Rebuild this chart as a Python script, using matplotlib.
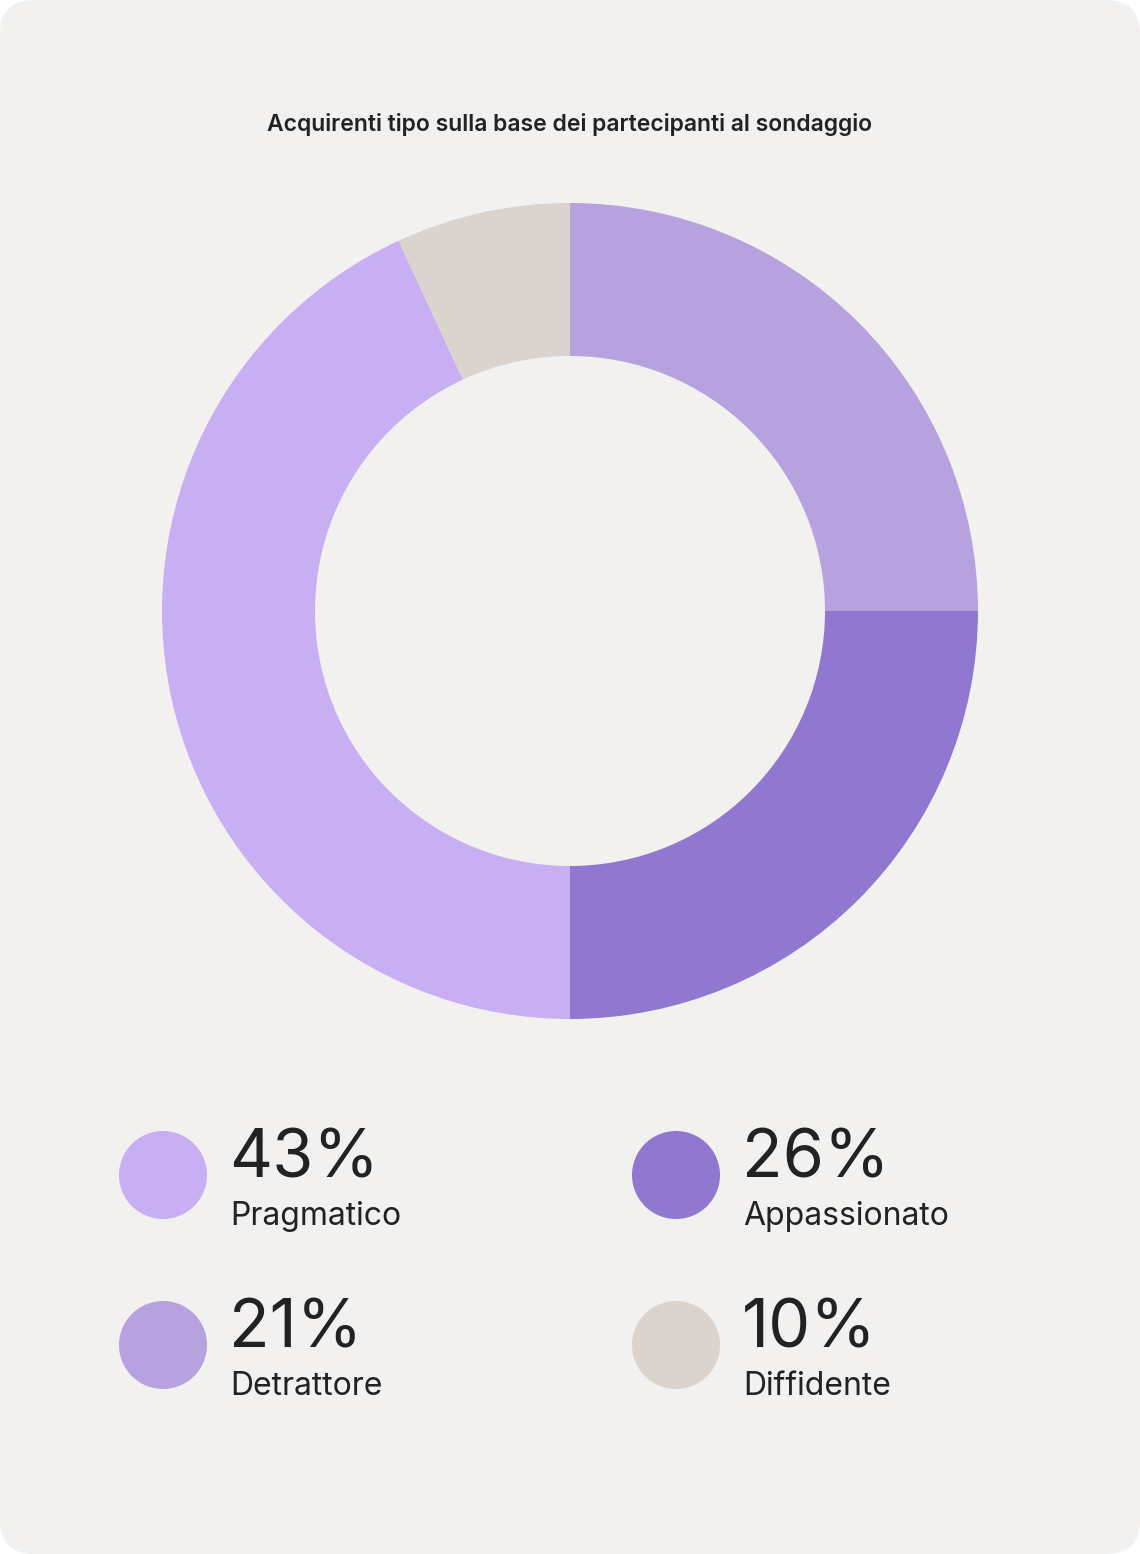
import matplotlib
matplotlib.use("Agg")
import matplotlib.pyplot as plt
from matplotlib.patches import FancyBboxPatch, Circle

plt.rcParams['font.family'] = ['Inter', 'DejaVu Sans']

title = "Acquirenti tipo sulla base dei partecipanti al sondaggio"
# Slice order clockwise from 12 o'clock, shares as drawn in the picture
slice_names = ["Detrattore", "Appassionato", "Pragmatico", "Diffidente"]
slice_shares = [25.0, 25.0, 43.1, 6.9]
slice_colors = ["#B5A2DF", "#9078D0", "#C8AEF2", "#DBD4CE"]
# Legend
legend_names = ["Pragmatico", "Appassionato", "Detrattore", "Diffidente"]
legend_pcts = ["43%", "26%", "21%", "10%"]
legend_colors = ["#C8AEF2", "#9078D0", "#B5A2DF", "#DBD4CE"]

W, H = 1140, 1554
fig = plt.figure(figsize=(W/100, H/100), dpi=100)
fig.patch.set_facecolor("white")
bg = fig.add_axes([0, 0, 1, 1])
bg.set_xlim(0, W); bg.set_ylim(H, 0); bg.axis("off")
bg.add_patch(FancyBboxPatch((0, 0), W, H, boxstyle="round,pad=0,rounding_size=34",
                            fc="#F2F1EF", ec="none"))
bg.text(570, 125, title, ha="center", va="center", fontsize=16.5, fontweight="semibold", color="#222222")

cx, cy, r = 570, 611, 408
pa = fig.add_axes([(cx-r)/W, (H-cy-r)/H, 2*r/W, 2*r/H])
pa.pie(slice_shares, colors=slice_colors, startangle=90, counterclock=False,
       wedgeprops=dict(width=153/408, linewidth=0))
pa.set_aspect("equal"); pa.set_xlim(-1, 1); pa.set_ylim(-1, 1); pa.axis("off")

xs = [163, 676]; ys = [1175, 1345]
for i, (n, p, c) in enumerate(zip(legend_names, legend_pcts, legend_colors)):
    x = xs[i % 2]; y = ys[i // 2]
    bg.add_patch(Circle((x, y), 44, fc=c, ec="none"))
    bg.text(x + 66, y + 3, p, ha="left", va="baseline", fontsize=48, color="#222222")
    bg.text(x + 67, y + 50, n, ha="left", va="baseline", fontsize=23, color="#222222")

fig.savefig("out.png", dpi=100, facecolor=fig.get_facecolor())
